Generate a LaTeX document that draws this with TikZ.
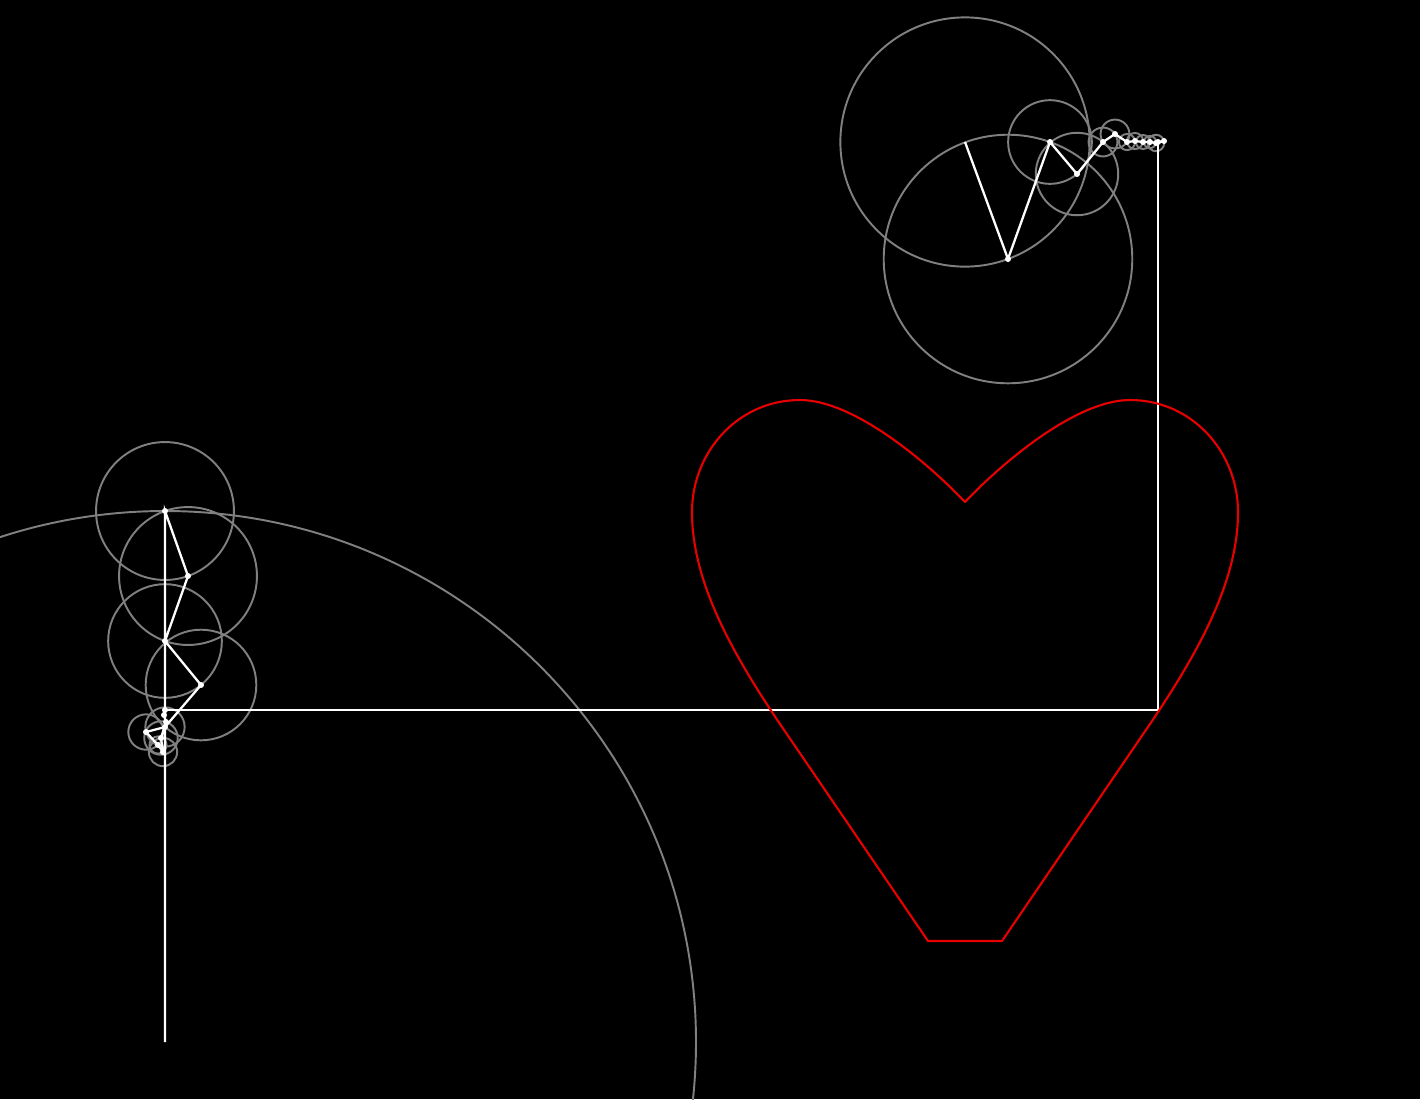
\documentclass[tikz,border=0pt]{standalone}
\usetikzlibrary{calc}
\definecolor{orbitgray}{RGB}{128,128,128}
\definecolor{heartred}{RGB}{232,0,0}
\tikzset{
  orbit/.style={draw=orbitgray, line width=0.55pt},
  arm/.style={draw=white, line width=0.65pt},
  joint/.style={fill=white},
  trace/.style={draw=heartred, line width=0.6pt, line join=round},
}

\begin{document}
\begin{tikzpicture}[x=0.01cm, y=-0.01cm]
    \fill[black] (0,0) rectangle (1420,1099);
    \useasboundingbox (0,0) rectangle (1420,1099);
    \clip (0,0) rectangle (1420,1099);
    \coordinate (y0) at (165,1042);
    \coordinate (y1) at (165,511);
    \coordinate (y2) at (188,576);
    \coordinate (y3) at (165,641);
    \coordinate (y4) at (201,685);
    \coordinate (y5) at (165,727);
    \coordinate (y6) at (146,732);
    \coordinate (y7) at (158,745);
    \coordinate (y8) at (163,752);
    \coordinate (y9) at (161,738);
    \coordinate (y10) at (166,722);
    \coordinate (y11) at (164,715);
    \coordinate (y12) at (165,710);
    \coordinate (x0) at (965,142);
    \coordinate (x1) at (1008,259);
    \coordinate (x2) at (1050,142);
    \coordinate (x3) at (1077,174);
    \coordinate (x4) at (1103,142);
    \coordinate (x5) at (1115,134);
    \coordinate (x6) at (1127,142);
    \coordinate (x7) at (1135,141);
    \coordinate (x8) at (1143,142);
    \coordinate (x9) at (1150,142);
    \coordinate (x10) at (1156,143);
    \coordinate (x11) at (1164,141);
    \coordinate (x12) at (1158,142);
    \coordinate (pen) at (x12 |- y12);
    \foreach \ctr/\nxt in {y0/y1, y1/y2, y2/y3, y3/y4, y4/y5, y5/y6, y6/y7, y7/y8, y8/y9, y9/y10,
        x0/x1, x1/x2, x2/x3, x3/x4, x4/x5, x5/x6, x6/x7, x7/x8, x8/x9, x9/x10, x10/x11}
      \draw[orbit] let \p1=($(\nxt)-(\ctr)$), \n1={veclen(\x1,\y1)} in (\ctr) circle (\n1);
    \draw[arm] (y0) -- (y1) -- (y2) -- (y3) -- (y4) -- (y5) -- (y6) -- (y7) -- (y8) -- (y9)
      -- (y10) -- (y11) -- (y12);
    \draw[arm] (x0) -- (x1) -- (x2) -- (x3) -- (x4) -- (x5) -- (x6) -- (x7) -- (x8) -- (x9)
      -- (x10) -- (x11) -- (x12);
    \foreach \k in {1,...,12} {
      \fill[joint] (y\k) circle (3);
      \fill[joint] (x\k) circle (3);
    }
    \draw[arm] (y12) -- (pen) -- (x12);
    \draw[trace] (928,941) -- (780,724)
      .. controls (730,650) and (692,580) .. (692,512)
      .. controls (692,452) and (738,400) .. (800,400)
      .. controls (855,400) and (930,465) .. (965,502)
      .. controls (1000,465) and (1075,400) .. (1130,400)
      .. controls (1192,400) and (1238,452) .. (1238,512)
      .. controls (1238,580) and (1200,650) .. (1150,724)
      -- (1002,941) -- cycle;
  \end{tikzpicture}
\end{document}
